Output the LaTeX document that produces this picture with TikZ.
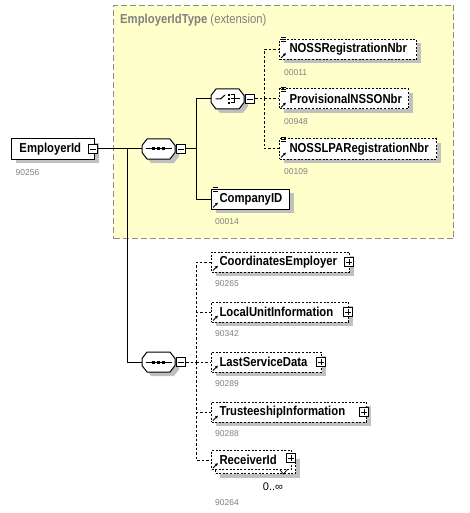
\documentclass[tikz,border=0pt]{standalone}
\usepackage{fontspec}
\setmainfont{Liberation Sans}
\newfontfamily\elemfont[FakeStretch=0.87]{Liberation Sans}
\usetikzlibrary{shadows,calc,arrows.meta}
\definecolor{typefill}{RGB}{255,255,204}
\definecolor{typeline}{RGB}{140,140,140}
\definecolor{numgray}{RGB}{128,128,128}
\definecolor{shadowgray}{RGB}{192,192,192}
\tikzset{
  shad/.style={drop shadow={shadow xshift=4pt, shadow yshift=-4pt, fill=shadowgray, opacity=1}},
  elembox/.style={draw=black, fill=white, line width=1pt, inner xsep=0pt, inner ysep=0pt,
    minimum height=20pt, align=left, anchor=west,
    font=\elemfont\bfseries\fontsize{13}{14}\selectfont},
  optbox/.style={elembox, dash pattern=on 2pt off 1.6pt},
  numlbl/.style={anchor=west, inner sep=0pt, font=\fontsize{8.5}{10}\selectfont, text=numgray},
  pmbox/.style={draw=black, fill=white, line width=0.8pt, minimum size=9.5pt, inner sep=0pt},
  compnode/.style={draw=none, minimum width=33pt, minimum height=20pt, inner sep=0pt},
  conn/.style={line width=1pt},
  dconn/.style={line width=1pt, dash pattern=on 2.5pt off 2pt},
  typebox/.style={draw=typeline, fill=typefill, line width=1pt, dash pattern=on 6pt off 3pt},
  octo/.pic={
    \fill[shadowgray] (-12.5,-6) -- (-7.5,-6) -- (15.5,-6) -- (20.5,0.5) -- (20.5,7.5) -- (15.5,14) -- (-7.5,14) -- (-12.5,7.5) -- cycle;
    \draw[fill=white, line width=1pt] (-16.5,-3.5) -- (-11.5,-10) -- (11.5,-10) -- (16.5,-3.5) -- (16.5,3.5) -- (11.5,10) -- (-11.5,10) -- (-16.5,3.5) -- cycle;
  }
}
\newcommand\mkminus[1]{\draw[line width=0.8pt] ($(#1.center)+(-2.8,0)$) -- ($(#1.center)+(2.8,0)$);}
\newcommand\mkplus[1]{\mkminus{#1}\draw[line width=0.8pt] ($(#1.center)+(0,-2.8)$) -- ($(#1.center)+(0,2.8)$);}
\newcommand\mkarrow[1]{\draw[line width=0.8pt, -{Triangle[length=2.6pt,width=2.8pt]}] ($(#1.south west)+(2,-2)$) -- ($(#1.south west)+(6.8,-6.8)$);}
\newcommand\mklines[1]{\foreach \k in {0,2,4} {\draw[line width=0.7pt] ($(#1.north west)+(2,-1.5+\k)$) -- ++(5,0);}}
\begin{document}
\begin{tikzpicture}[x=1pt,y=-1pt]
\useasboundingbox (0,0) rectangle (470,513);

% extension type area
\node[typebox, minimum width=340pt, minimum height=233pt, anchor=north west, inner sep=0pt] (typebg) at (113,5) {};
\node[anchor=west, inner sep=0pt, text=numgray, font=\elemfont\fontsize{13}{14}\selectfont] (typettl) at (120,20) {\bfseries EmployerIdType\ \mdseries(extension)};

% root element
\node[elembox, shad, text width=83pt] (emp) at (11,149) {\hspace*{8pt}EmployerId};
\node[pmbox] (empm) at (93,149) {}; \mkminus{empm}
\node[numlbl] (empn) at ($(emp.south west)+(4.5,13)$) {90256};

% sequence 1
\pic at (158.5,149) {octo};
\node[compnode] (seq1) at (158.5,149) {};
\begin{scope}[shift={(seq1.center)}]
  \draw[line width=1pt] (-13,0) -- (13,0);
  \foreach \u in {-5,0,5} {\fill (\u-1.5,-1.5) rectangle (\u+1.5,1.5);}
\end{scope}
\node[pmbox] (seq1m) at (181,149) {}; \mkminus{seq1m}

% choice
\pic at (227.5,99) {octo};
\node[compnode] (choice) at (227.5,99) {};
\begin{scope}[shift={(choice.center)}, line width=1pt]
  \draw (-12,0) -- (-7,0) -- (-2.5,-4);
  \foreach \v in {-4,0,4} {\fill (0.2,\v-1.2) rectangle (2.6,\v+1.2);}
  \draw (3.5,-4) -- (6.5,-4) -- (6.5,4) -- (3.5,4);
  \draw (3.5,0) -- (12,0);
\end{scope}
\node[pmbox] (choicem) at (250,99) {}; \mkminus{choicem}

% choice children
\node[optbox, shad, text width=137pt] (noss) at (279,49.5) {\hspace*{10pt}NOSSRegistrationNbr};
\mklines{noss}\mkarrow{noss}
\node[numlbl] (nossn) at ($(noss.south west)+(5,12.5)$) {00011};

\node[optbox, shad, text width=129pt] (prov) at (279,99) {\hspace*{10pt}ProvisionalNSSONbr};
\mklines{prov}\mkarrow{prov}
\node[numlbl] (provn) at ($(prov.south west)+(5,12.5)$) {00948};

\node[optbox, shad, text width=157pt] (lpa) at (279,149) {\hspace*{10pt}NOSSLPARegistrationNbr};
\mklines{lpa}\mkarrow{lpa}
\node[numlbl] (lpan) at ($(lpa.south west)+(5,12.5)$) {00109};

% company id
\node[elembox, shad, text width=78pt] (comp) at (211,199) {\hspace*{8pt}CompanyID};
\mklines{comp}\mkarrow{comp}
\node[numlbl] (compn) at ($(comp.south west)+(4,12.5)$) {00014};

% sequence 2
\pic at (158.5,362) {octo};
\node[compnode] (seq2) at (158.5,362) {};
\begin{scope}[shift={(seq2.center)}]
  \draw[line width=1pt] (-13,0) -- (13,0);
  \foreach \u in {-5,0,5} {\fill (\u-1.5,-1.5) rectangle (\u+1.5,1.5);}
\end{scope}
\node[pmbox] (seq2m) at (181,362) {}; \mkminus{seq2m}

% sequence 2 children
\node[optbox, shad, text width=138pt] (coord) at (211,262) {\hspace*{8pt}CoordinatesEmployer};
\mkarrow{coord}
\node[pmbox] (coordp) at ($(coord.east)+(-1,0)$) {}; \mkplus{coordp}
\node[numlbl] (coordn) at ($(coord.south west)+(4,11.5)$) {90265};

\node[optbox, shad, text width=137pt] (local) at (211,312) {\hspace*{8pt}LocalUnitInformation};
\mkarrow{local}
\node[pmbox] (localp) at ($(local.east)+(-1,0)$) {}; \mkplus{localp}
\node[numlbl] (localn) at ($(local.south west)+(4,11.5)$) {90342};

\node[optbox, shad, text width=110pt] (last) at (211,362) {\hspace*{8pt}LastServiceData};
\mkarrow{last}
\node[pmbox] (lastp) at ($(last.east)+(-1,0)$) {}; \mkplus{lastp}
\node[numlbl] (lastn) at ($(last.south west)+(4,11.5)$) {90289};

\node[optbox, shad, text width=155pt] (trust) at (211,412) {\hspace*{8pt}TrusteeshipInformation};
\mkarrow{trust}
\node[pmbox] (trustp) at ($(trust.east)+(-3,0)$) {}; \mkplus{trustp}
\node[numlbl] (trustn) at ($(trust.south west)+(4,11.5)$) {90288};

\node[optbox, shad, text width=80pt, minimum height=19pt] (recvbk) at (215,464) {};
\node[optbox, text width=80pt, minimum height=19pt] (recv) at (211,460) {\hspace*{8pt}ReceiverId};
\mkarrow{recv}
\node[pmbox] (recvp) at ($(recv.east)+(-1,-2)$) {}; \mkplus{recvp}
\draw[line width=0.7pt] ($(recvbk.south east)+(-16,-4)$) -- ($(recvbk.south east)+(-12.5,0)$) -- ($(recvbk.south east)+(-9,-4)$);
\node[anchor=center, inner sep=0pt, font=\fontsize{11}{12}\selectfont] (recvocc) at (273,486.5) {0..∞};
\node[numlbl] (recvn) at ($(recv.south west)+(4,32.5)$) {90264};

% connectors
\coordinate (j1) at (127,149);
\coordinate (j2) at (196,149);
\coordinate (j3) at (264,99);
\coordinate (j4) at (196,362);
\draw[conn] (empm.east) -- (seq1.west);
\draw[conn] (j1) |- (seq2.west);
\draw[conn] (seq1m.east) -- (j2);
\draw[conn] (j2) |- (choice.west);
\draw[conn] (j2) |- (comp.west);
\draw[dconn] (choicem.east) -- (j3);
\draw[dconn] (j3) |- (noss.west);
\draw[dconn] (j3) |- (lpa.west);
\draw[dconn] (j3) -- (prov.west);
\draw[dconn] (seq2m.east) -- (j4);
\draw[dconn] (j4) |- (coord.west);
\draw[dconn] (j4) |- (local.west);
\draw[dconn] (j4) -- (last.west);
\draw[dconn] (j4) |- (trust.west);
\draw[dconn] (j4) |- (recv.west);
\end{tikzpicture}
\end{document}
